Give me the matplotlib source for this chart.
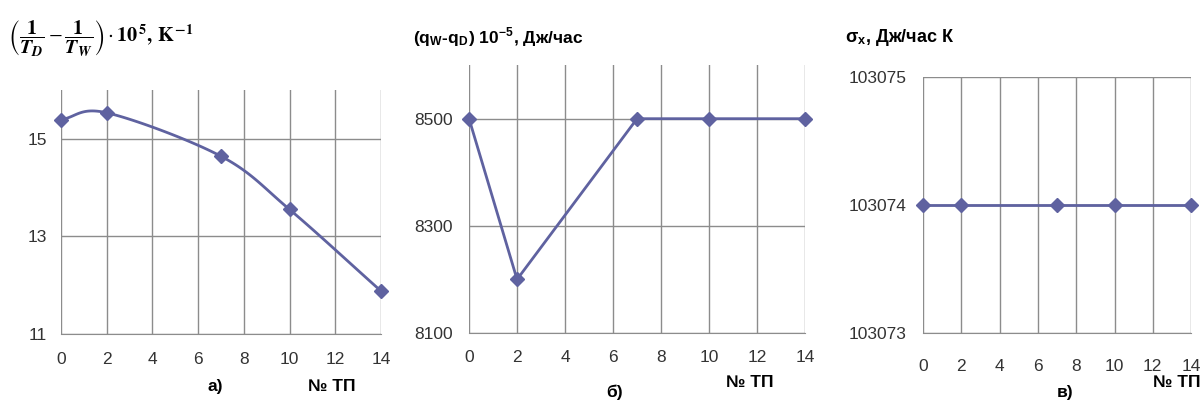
import numpy as np
import matplotlib
matplotlib.use('Agg')
import matplotlib.pyplot as plt

# Дані з рисунка
tp = [0, 2, 7, 10, 14]
inv_t_diff = [15.39, 15.53, 14.64, 13.55, 11.88]   # (1/TD - 1/TW)*10^5
q_diff = [8500, 8200, 8500, 8500, 8500]            # (qW - qD)*10^-5
sigma_x = [103074, 103074, 103074, 103074, 103074]

x_ticks = [0, 2, 4, 6, 8, 10, 12, 14]
yticks_a = [11, 13, 15]
yticks_b = [8100, 8300, 8500]
yticks_c = [103073, 103074, 103075]

LINE = '#5f62a0'
GRID = '#8c8c8c'
plt.rcParams['font.family'] = ['Liberation Sans', 'DejaVu Sans']
plt.rcParams['mathtext.fontset'] = 'stix'


def smooth(x, y, n=30):
    """Згладжена крива типу Catmull-Rom (як 'smoothed line' в Excel)"""
    x = np.asarray(x, float)
    y = np.asarray(y, float)
    px = np.concatenate([[2 * x[0] - x[1]], x, [2 * x[-1] - x[-2]]])
    py = np.concatenate([[2 * y[0] - y[1]], y, [2 * y[-1] - y[-2]]])
    xs, ys = [], []
    t = np.linspace(0, 1, n)
    for i in range(1, len(px) - 2):
        for arr, out in ((px, xs), (py, ys)):
            p0, p1, p2, p3 = arr[i - 1:i + 3]
            m1 = (p2 - p0) / 6
            m2 = (p3 - p1) / 6
            b = ((1 - t) ** 3 * p1 + 3 * (1 - t) ** 2 * t * (p1 + m1)
                 + 3 * (1 - t) * t ** 2 * (p2 - m2) + t ** 3 * p2)
            out.extend(b)
    return xs, ys


def style_axes(ax, yticks, ylim, xpad, ypad):
    ax.set_xlim(0, 14)
    ax.set_ylim(*ylim)
    ax.set_xticks(x_ticks)
    ax.set_xticklabels([str(v) for v in x_ticks])
    ax.set_yticks(yticks)
    ax.set_yticklabels([str(v) for v in yticks])
    ax.grid(True, color=GRID, linewidth=1.0)
    ax.set_axisbelow(True)
    for s in ('top', 'right', 'left'):
        ax.spines[s].set_visible(False)
    ax.spines['bottom'].set_color(GRID)
    ax.tick_params(length=0, labelsize=12.5, colors='#333333')
    ax.tick_params(axis='x', pad=xpad)
    ax.tick_params(axis='y', pad=ypad)


fig = plt.figure(figsize=(12.03, 4.01), dpi=100)
bold = dict(fontsize=12.5, fontweight='bold', ha='center', va='center')

# а)
ax1 = fig.add_axes([0.0507, 0.167, 0.266, 0.609])
sx, sy = smooth(tp, inv_t_diff)
ax1.plot(sx, sy, color=LINE, lw=2, clip_on=False)
ax1.plot(tp, inv_t_diff, ls='none', marker='D', ms=7, color=LINE, clip_on=False)
style_axes(ax1, yticks_a, (11, 16), 13, 10)
fig.text(0.007, 0.905,
         r'$\left(\dfrac{\mathbf{1}}{\mathbfit{T}_{\mathbfit{D}}}-\dfrac{\mathbf{1}}{\mathbfit{T}_{\mathbfit{W}}}\right)'
         r'\cdot\mathbf{10}^{\,\mathbf{5}}\mathbf{,\,K}^{\,\mathbf{-1}}$',
         fontsize=14.5, va='center', ha='left')
fig.text(0.179, 0.035, 'а)', **bold)
fig.text(0.276, 0.035, '№ ТП', **bold)

# б)
ax2 = fig.add_axes([0.3899, 0.1696, 0.2793, 0.668])
ax2.plot(tp, q_diff, color=LINE, lw=2, marker='D', ms=7, clip_on=False)
style_axes(ax2, yticks_b, (8100, 8600), 12, 12)
fig.text(0.343, 0.907, r'(q$_{\mathregular{W}}$-q$_{\mathregular{D}}$) 10$^{\mathregular{-5}}$, Дж/час',
         fontsize=12.5, fontweight='bold', va='center', ha='left')
fig.text(0.511, 0.022, 'б)', **bold)
fig.text(0.623, 0.047, '№ ТП', **bold)

# в)
ax3 = fig.add_axes([0.7673, 0.1696, 0.2228, 0.6384])
ax3.plot(tp, sigma_x, color=LINE, lw=2, marker='D', ms=7, clip_on=False)
style_axes(ax3, yticks_c, (103073, 103075), 19, 12)
fig.text(0.7025, 0.907, r'σ$_{\mathregular{x}}$, Дж/час К',
         fontsize=13, fontweight='bold', va='center', ha='left')
fig.text(0.885, 0.020, 'в)', **bold)
fig.text(0.978, 0.047, '№ ТП', **bold)

fig.savefig('out.png', dpi=100)
